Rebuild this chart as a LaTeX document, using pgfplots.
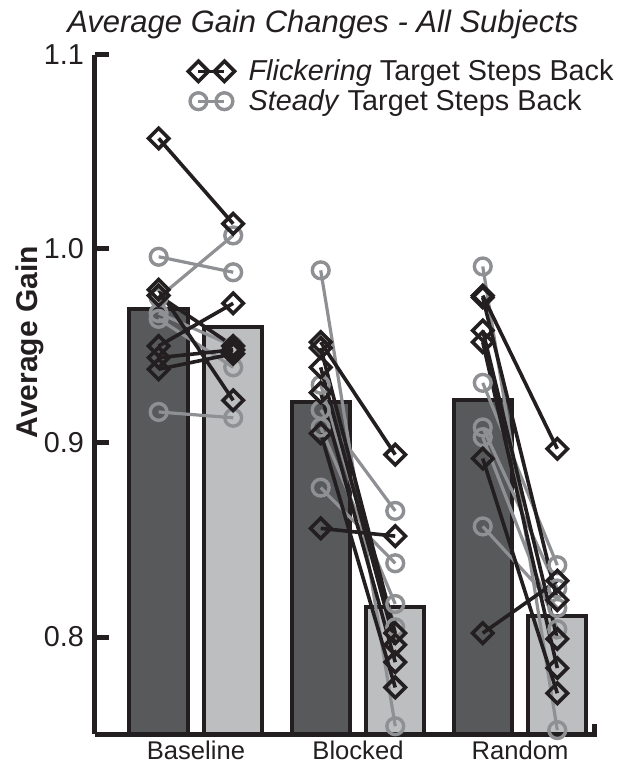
\documentclass[border=0pt]{standalone}
\usepackage{pgfplots}
\pgfplotsset{compat=1.18}
\usepackage{fontspec}
\setmainfont{Liberation Sans}
\definecolor{darkbar}{HTML}{58595B}
\definecolor{lightbar}{HTML}{BCBEC0}
\definecolor{stgray}{HTML}{8F9093}
\definecolor{ink}{HTML}{231F20}
\pgfplotsset{pairlegend/.style={legend image code/.code={\draw[mark repeat=1,##1] plot coordinates {(0pt,0pt) (13pt,0pt)};}}}
\begin{document}
\begin{tikzpicture}
\begin{axis}[
  scale only axis, width=251pt, height=339.5pt,
  xmin=0.377, xmax=3.475, ymin=0.75, ymax=1.1,
  axis x line=bottom, axis y line=left,
  axis line style={-, line width=2.5pt, ink},
  xtick={1,2,3}, xticklabels={Baseline,Blocked,Random},
  xtick style={draw=none},
  ytick={0.8,0.9,1.0,1.1},
  ytick style={line width=2.5pt, ink},
  tick align=inside, major tick length=7pt,
  xticklabel style={font=\fontsize{12.8}{14}\selectfont, text=ink},
  yticklabel style={font=\fontsize{14.4}{16}\selectfont, text=ink, xshift=-2pt,
    /pgf/number format/fixed, /pgf/number format/fixed zerofill, /pgf/number format/precision=1, /pgf/number format/assume math mode=true},
  title={\textit{Average Gain Changes - All Subjects}},
  title style={at={(rel axis cs:0.454,1)}, anchor=base, yshift=5pt, font=\fontsize{15.5}{18}\selectfont, text=ink},
  every axis y label/.style={at={(rel axis cs:-0.1295,0.577)}, rotate=90, anchor=center, font=\bfseries\fontsize{15}{18}\selectfont, text=ink},
  ylabel={Average Gain},
  legend style={draw=none, fill=none, inner sep=0pt, at={(rel axis cs:0.185,1.0)}, anchor=north west, font=\fontsize{14.4}{16}\selectfont, text=ink, row sep=-1pt, column sep=5pt},
  legend cell align=left,
]
% bars
\addplot[ybar, bar width=0.36, bar shift=0pt, fill=darkbar, draw=ink, line width=2pt, forget plot]
  coordinates {(0.77,0.969) (1.77,0.921) (2.77,0.922)};
\addplot[ybar, bar width=0.36, bar shift=0pt, fill=lightbar, draw=ink, line width=2pt, forget plot]
  coordinates {(1.23,0.960) (2.23,0.8155) (3.23,0.811)};
% steady (gray)
\addplot[stgray, line width=1.6pt, mark=o, mark size=4.2pt, mark options={solid, line width=1.7pt}, unbounded coords=jump, forget plot]
  coordinates {
  (0.77,0.996) (1.23,0.988) (1,nan)
  (0.77,0.975) (1.23,1.007) (1,nan)
  (0.77,0.967) (1.23,0.950) (1,nan)
  (0.77,0.964) (1.23,0.939) (1,nan)
  (0.77,0.916) (1.23,0.913) (1,nan)
  (1.77,0.989) (2.23,0.754) (2,nan)
  (1.77,0.930) (2.23,0.805) (2,nan)
  (1.77,0.917) (2.23,0.865) (2,nan)
  (1.77,0.908) (2.23,0.817) (2,nan)
  (1.77,0.877) (2.23,0.838) (2,nan)
  (2.77,0.991) (3.23,0.752) (3,nan)
  (2.77,0.931) (3.23,0.837) (3,nan)
  (2.77,0.908) (3.23,0.825) (3,nan)
  (2.77,0.903) (3.23,0.804) (3,nan)
  (2.77,0.857) (3.23,0.815)
  };
% flickering (black)
\addplot[ink, line width=1.8pt, mark=square, mark size=3.6pt, mark options={solid, rotate=45, line width=1.8pt}, unbounded coords=jump, forget plot]
  coordinates {
  (0.77,1.057) (1.23,1.013) (1,nan)
  (0.77,0.979) (1.23,0.922) (1,nan)
  (0.77,0.976) (1.23,0.950) (1,nan)
  (0.77,0.950) (1.23,0.972) (1,nan)
  (0.77,0.944) (1.23,0.948) (1,nan)
  (0.77,0.938) (1.23,0.946) (1,nan)
  (1.77,0.952) (2.23,0.894) (2,nan)
  (1.77,0.949) (2.23,0.802) (2,nan)
  (1.77,0.939) (2.23,0.796) (2,nan)
  (1.77,0.926) (2.23,0.787) (2,nan)
  (1.77,0.905) (2.23,0.774) (2,nan)
  (1.77,0.856) (2.23,0.852) (2,nan)
  (2.77,0.976) (3.23,0.897) (3,nan)
  (2.77,0.975) (3.23,0.819) (3,nan)
  (2.77,0.958) (3.23,0.799) (3,nan)
  (2.77,0.952) (3.23,0.784) (3,nan)
  (2.77,0.892) (3.23,0.771) (3,nan)
  (2.77,0.802) (3.23,0.829)
  };
\addlegendimage{ink, line width=1.8pt, mark=square, mark size=3.6pt, mark options={solid, rotate=45, line width=1.8pt}, pairlegend}
\addlegendentry{\textit{Flickering} Target Steps Back}
\addlegendimage{stgray, line width=1.6pt, mark=o, mark size=4.2pt, mark options={solid, line width=1.7pt}, pairlegend}
\addlegendentry{\textit{Steady} Target Steps Back}
\coordinate (bbsw) at (rel axis cs:-0.1892,-0.0486);
\coordinate (bbne) at (rel axis cs:1.0538,1.081);
\coordinate (xend) at (rel axis cs:1,0);
\end{axis}
\draw[ink, line width=2.5pt] ([xshift=-1.25pt]xend) -- ++(0,5pt);
\pgfresetboundingbox
\useasboundingbox (bbsw) rectangle (bbne);
\end{tikzpicture}
\end{document}
